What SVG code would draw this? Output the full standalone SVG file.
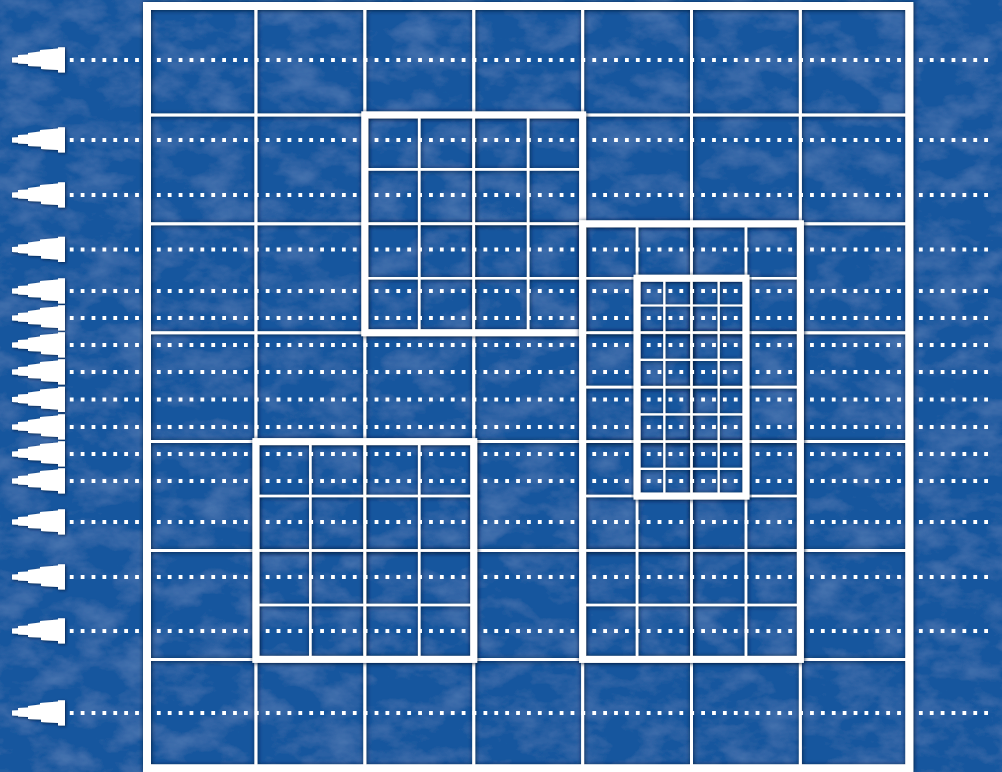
<svg xmlns="http://www.w3.org/2000/svg" xmlns:xlink="http://www.w3.org/1999/xlink" width="1002" height="772" viewBox="0 0 1002 772">
  <defs>
    <filter id="tex" x="0" y="0" width="100%" height="100%">
      <feTurbulence type="fractalNoise" baseFrequency="0.025 0.04" numOctaves="4" seed="7" result="n"/>
      <feColorMatrix in="n" type="matrix" values="0 0 0 0 0.30  0 0 0 0 0.52  0 0 0 0 0.82  0.4 0 0 0 -0.17" result="light"/>
      <feMerge><feMergeNode in="SourceGraphic"/><feMergeNode in="light"/></feMerge>
    </filter>
    <filter id="glow" x="-5%" y="-5%" width="110%" height="110%">
      <feDropShadow dx="0.6" dy="0.6" stdDeviation="2" flood-color="#031a40" flood-opacity="1"/>
    </filter>
    <filter id="ashadow" x="-20%" y="-30%" width="140%" height="160%">
      <feDropShadow dx="1" dy="1" stdDeviation="1.5" flood-color="#031a40" flood-opacity="0.8"/>
    </filter>
    <path id="arrow" d="M12,-2.5 L18,-2.7 L18,-5 L28,-5.5 L28,-7 L40,-8.5 L40,-10 L58,-11.5 L58,-12.7 L65,-12.7 L65,12.5 L58,12.5 L58,10 L41,9 L41,6.5 L28,6 L28,4 L18,3.5 L18,2.7 L12,2.5 Z"/>
    <style>
      .frame { fill: none; stroke: #ffffff; stroke-width: 8; }
      .box { fill: none; stroke: #ffffff; stroke-width: 7; }
      .l1 { stroke: #ffffff; stroke-width: 3; }
      .l2 { stroke: #ffffff; stroke-width: 2.6; }
      .l3 { stroke: #ffffff; stroke-width: 2.2; }
      .dot { stroke: #ffffff; stroke-width: 3.8; stroke-dasharray: 3.8 7.086; fill: none; }
      .arr { fill: #ffffff; }
    </style>
  </defs>

  <g id="background">
    <rect x="0" y="0" width="1002" height="772" fill="#17579e" filter="url(#tex)"/>
  </g>

  <g id="base-grid" filter="url(#glow)">
    <rect class="frame" x="147" y="6" width="762.3" height="762.3"/>
    <line class="l1" x1="255.9" y1="6" x2="255.9" y2="768.3"/>
    <line class="l1" x1="364.8" y1="6" x2="364.8" y2="768.3"/>
    <line class="l1" x1="473.7" y1="6" x2="473.7" y2="768.3"/>
    <line class="l1" x1="582.6" y1="6" x2="582.6" y2="768.3"/>
    <line class="l1" x1="691.5" y1="6" x2="691.5" y2="768.3"/>
    <line class="l1" x1="800.4" y1="6" x2="800.4" y2="768.3"/>
    <line class="l1" x1="147" y1="114.9" x2="909.3" y2="114.9"/>
    <line class="l1" x1="147" y1="223.8" x2="909.3" y2="223.8"/>
    <line class="l1" x1="147" y1="332.7" x2="909.3" y2="332.7"/>
    <line class="l1" x1="147" y1="441.6" x2="909.3" y2="441.6"/>
    <line class="l1" x1="147" y1="550.5" x2="909.3" y2="550.5"/>
    <line class="l1" x1="147" y1="659.4" x2="909.3" y2="659.4"/>
  </g>

  <g id="box-1" filter="url(#glow)">
    <line class="l2" x1="419.25" y1="114.9" x2="419.25" y2="332.7"/>
    <line class="l2" x1="473.7" y1="114.9" x2="473.7" y2="332.7"/>
    <line class="l2" x1="528.15" y1="114.9" x2="528.15" y2="332.7"/>
    <line class="l2" x1="364.8" y1="169.35" x2="582.6" y2="169.35"/>
    <line class="l2" x1="364.8" y1="223.8" x2="582.6" y2="223.8"/>
    <line class="l2" x1="364.8" y1="278.25" x2="582.6" y2="278.25"/>
    <rect class="box" x="364.8" y="114.9" width="217.8" height="217.8"/>
  </g>

  <g id="box-2" filter="url(#glow)">
    <line class="l2" x1="637.05" y1="223.8" x2="637.05" y2="659.4"/>
    <line class="l2" x1="691.5" y1="223.8" x2="691.5" y2="659.4"/>
    <line class="l2" x1="745.95" y1="223.8" x2="745.95" y2="659.4"/>
    <line class="l2" x1="582.6" y1="278.25" x2="800.4" y2="278.25"/>
    <line class="l2" x1="582.6" y1="332.7" x2="800.4" y2="332.7"/>
    <line class="l2" x1="582.6" y1="387.15" x2="800.4" y2="387.15"/>
    <line class="l2" x1="582.6" y1="441.6" x2="800.4" y2="441.6"/>
    <line class="l2" x1="582.6" y1="496.05" x2="800.4" y2="496.05"/>
    <line class="l2" x1="582.6" y1="550.5" x2="800.4" y2="550.5"/>
    <line class="l2" x1="582.6" y1="604.95" x2="800.4" y2="604.95"/>
    <rect class="box" x="582.6" y="223.8" width="217.8" height="435.6"/>
  </g>

  <g id="box-3" filter="url(#glow)">
    <line class="l3" x1="664.3" y1="278.25" x2="664.3" y2="496.05"/>
    <line class="l3" x1="691.5" y1="278.25" x2="691.5" y2="496.05"/>
    <line class="l3" x1="718.7" y1="278.25" x2="718.7" y2="496.05"/>
    <line class="l3" x1="637.05" y1="305.5" x2="745.95" y2="305.5"/>
    <line class="l3" x1="637.05" y1="332.7" x2="745.95" y2="332.7"/>
    <line class="l3" x1="637.05" y1="359.9" x2="745.95" y2="359.9"/>
    <line class="l3" x1="637.05" y1="387.15" x2="745.95" y2="387.15"/>
    <line class="l3" x1="637.05" y1="414.4" x2="745.95" y2="414.4"/>
    <line class="l3" x1="637.05" y1="441.6" x2="745.95" y2="441.6"/>
    <line class="l3" x1="637.05" y1="468.8" x2="745.95" y2="468.8"/>
    <rect class="box" x="637.05" y="278.25" width="108.9" height="217.8"/>
  </g>

  <g id="box-4" filter="url(#glow)">
    <line class="l2" x1="310.35" y1="441.6" x2="310.35" y2="659.4"/>
    <line class="l2" x1="364.8" y1="441.6" x2="364.8" y2="659.4"/>
    <line class="l2" x1="419.25" y1="441.6" x2="419.25" y2="659.4"/>
    <line class="l2" x1="255.9" y1="496.05" x2="473.7" y2="496.05"/>
    <line class="l2" x1="255.9" y1="550.5" x2="473.7" y2="550.5"/>
    <line class="l2" x1="255.9" y1="604.95" x2="473.7" y2="604.95"/>
    <rect class="box" x="255.9" y="441.6" width="217.8" height="217.8"/>
  </g>

  <g id="connectors">
    <g id="dotted-lines">
      <line class="dot" x1="69.8" y1="60" x2="988" y2="60"/>
      <line class="dot" x1="69.8" y1="140" x2="988" y2="140"/>
      <line class="dot" x1="69.8" y1="195" x2="988" y2="195"/>
      <line class="dot" x1="69.8" y1="249.5" x2="988" y2="249.5"/>
      <line class="dot" x1="69.8" y1="291" x2="988" y2="291"/>
      <line class="dot" x1="69.8" y1="318" x2="988" y2="318"/>
      <line class="dot" x1="69.8" y1="345" x2="988" y2="345"/>
      <line class="dot" x1="69.8" y1="372" x2="988" y2="372"/>
      <line class="dot" x1="69.8" y1="399.5" x2="988" y2="399.5"/>
      <line class="dot" x1="69.8" y1="427" x2="988" y2="427"/>
      <line class="dot" x1="69.8" y1="454" x2="988" y2="454"/>
      <line class="dot" x1="69.8" y1="481" x2="988" y2="481"/>
      <line class="dot" x1="69.8" y1="522" x2="988" y2="522"/>
      <line class="dot" x1="69.8" y1="577" x2="988" y2="577"/>
      <line class="dot" x1="69.8" y1="631" x2="988" y2="631"/>
      <line class="dot" x1="69.8" y1="713" x2="988" y2="713"/>
    </g>
    <g id="arrowheads" class="arr" filter="url(#ashadow)">
      <use xlink:href="#arrow" href="#arrow" transform="translate(0,60)"/>
      <use xlink:href="#arrow" href="#arrow" transform="translate(0,140)"/>
      <use xlink:href="#arrow" href="#arrow" transform="translate(0,195)"/>
      <use xlink:href="#arrow" href="#arrow" transform="translate(0,249.5)"/>
      <use xlink:href="#arrow" href="#arrow" transform="translate(0,291)"/>
      <use xlink:href="#arrow" href="#arrow" transform="translate(0,318)"/>
      <use xlink:href="#arrow" href="#arrow" transform="translate(0,345)"/>
      <use xlink:href="#arrow" href="#arrow" transform="translate(0,372)"/>
      <use xlink:href="#arrow" href="#arrow" transform="translate(0,399.5)"/>
      <use xlink:href="#arrow" href="#arrow" transform="translate(0,427)"/>
      <use xlink:href="#arrow" href="#arrow" transform="translate(0,454)"/>
      <use xlink:href="#arrow" href="#arrow" transform="translate(0,481)"/>
      <use xlink:href="#arrow" href="#arrow" transform="translate(0,522)"/>
      <use xlink:href="#arrow" href="#arrow" transform="translate(0,577)"/>
      <use xlink:href="#arrow" href="#arrow" transform="translate(0,631)"/>
      <use xlink:href="#arrow" href="#arrow" transform="translate(0,713)"/>
    </g>
  </g>
</svg>
